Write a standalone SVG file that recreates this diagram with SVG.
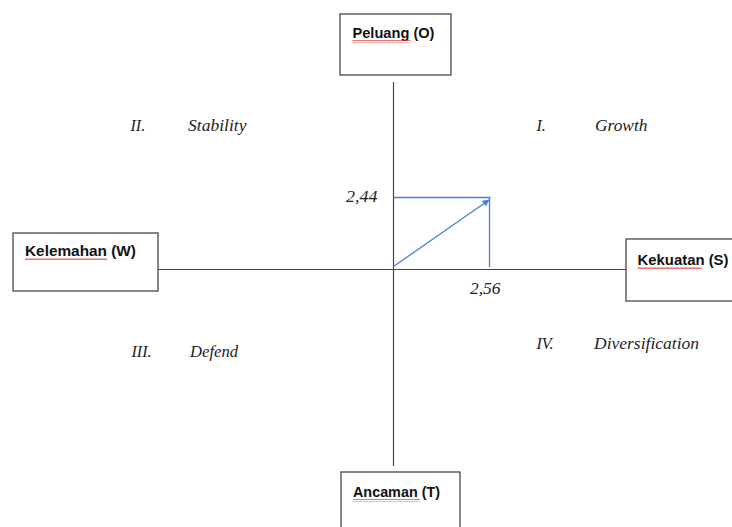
<svg xmlns="http://www.w3.org/2000/svg" width="732" height="527" viewBox="0 0 732 527">
  <style>
    .box { fill: #ffffff; stroke: #555555; stroke-width: 1.4; }
    .axis { stroke: #444444; stroke-width: 1.2; fill: none; }
    .vec { stroke: #4a7fd4; stroke-width: 1.3; fill: none; }
    .lbl { font-family: "Liberation Sans", Arial, sans-serif; font-weight: bold; font-size: 14.5px; fill: #111111; }
    .it { font-family: "Liberation Serif", "Times New Roman", serif; font-style: italic; font-size: 16px; fill: #222222; }
  </style>
  <defs>
    <marker id="tip" viewBox="0 0 10 10" refX="9" refY="5" markerWidth="7" markerHeight="7" orient="auto" markerUnits="userSpaceOnUse">
      <path d="M0,0 L10,5 L0,10 z" fill="#4a7fd4"/>
    </marker>
    <!-- spell-check style wavy underline -->
    <pattern id="wave" width="4" height="3" patternUnits="userSpaceOnUse">
      <path d="M0,2 L1,0.5 L2,2 L3,0.5 L4,2" stroke="#e03030" stroke-width="0.8" fill="none"/>
    </pattern>
  </defs>

  <!-- axes and position vector -->
  <g id="connectors">
    <line class="axis" x1="393.5" y1="82" x2="393.5" y2="466"/>
    <line class="axis" x1="158" y1="269.5" x2="626" y2="269.5"/>
    <line class="vec" x1="393.5" y1="197.5" x2="490.5" y2="197.5"/>
    <line class="vec" x1="489.5" y1="197.5" x2="489.5" y2="267"/>
    <line class="vec" x1="393.5" y1="266.5" x2="489" y2="200" marker-end="url(#tip)"/>
  </g>

  <g id="node-peluang">
    <rect class="box" x="340" y="14" width="111" height="61"/>
    <text class="lbl" x="352.5" y="38" textLength="82" lengthAdjust="spacingAndGlyphs">Peluang (O)</text>
    <rect x="352.5" y="40" width="58" height="3" fill="url(#wave)"/>
  </g>

  <g id="node-kelemahan">
    <rect class="box" x="13" y="233" width="145" height="58"/>
    <text class="lbl" x="25" y="256" textLength="111" lengthAdjust="spacingAndGlyphs">Kelemahan (W)</text>
    <rect x="25" y="258" width="82" height="3" fill="url(#wave)"/>
  </g>

  <g id="node-kekuatan">
    <rect class="box" x="626" y="239" width="110" height="62"/>
    <text class="lbl" x="637.5" y="264.5" textLength="91" lengthAdjust="spacingAndGlyphs">Kekuatan (S)</text>
    <rect x="637.5" y="266.5" width="64" height="3" fill="url(#wave)"/>
  </g>

  <g id="node-ancaman">
    <rect class="box" x="341" y="472" width="119" height="60"/>
    <text class="lbl" x="353" y="497" textLength="87" lengthAdjust="spacingAndGlyphs">Ancaman (T)</text>
    <rect x="353" y="499" width="67" height="3" fill="url(#wave)"/>
  </g>

  <g id="quadrants">
    <text class="it" x="130.5" y="131">II.</text>
    <text class="it" x="188" y="131" textLength="58.5" lengthAdjust="spacingAndGlyphs">Stability</text>
    <text class="it" x="536.5" y="131">I.</text>
    <text class="it" x="595" y="131" textLength="52.5" lengthAdjust="spacingAndGlyphs">Growth</text>
    <text class="it" x="131.5" y="357">III.</text>
    <text class="it" x="190" y="357" textLength="48" lengthAdjust="spacingAndGlyphs">Defend</text>
    <text class="it" x="536.5" y="349">IV.</text>
    <text class="it" x="594" y="349" textLength="105" lengthAdjust="spacingAndGlyphs">Diversification</text>
  </g>

  <g id="values">
    <text class="it" x="346" y="202" textLength="31.5" lengthAdjust="spacingAndGlyphs">2,44</text>
    <text class="it" x="470" y="293.5" textLength="30.5" lengthAdjust="spacingAndGlyphs">2,56</text>
  </g>
</svg>
